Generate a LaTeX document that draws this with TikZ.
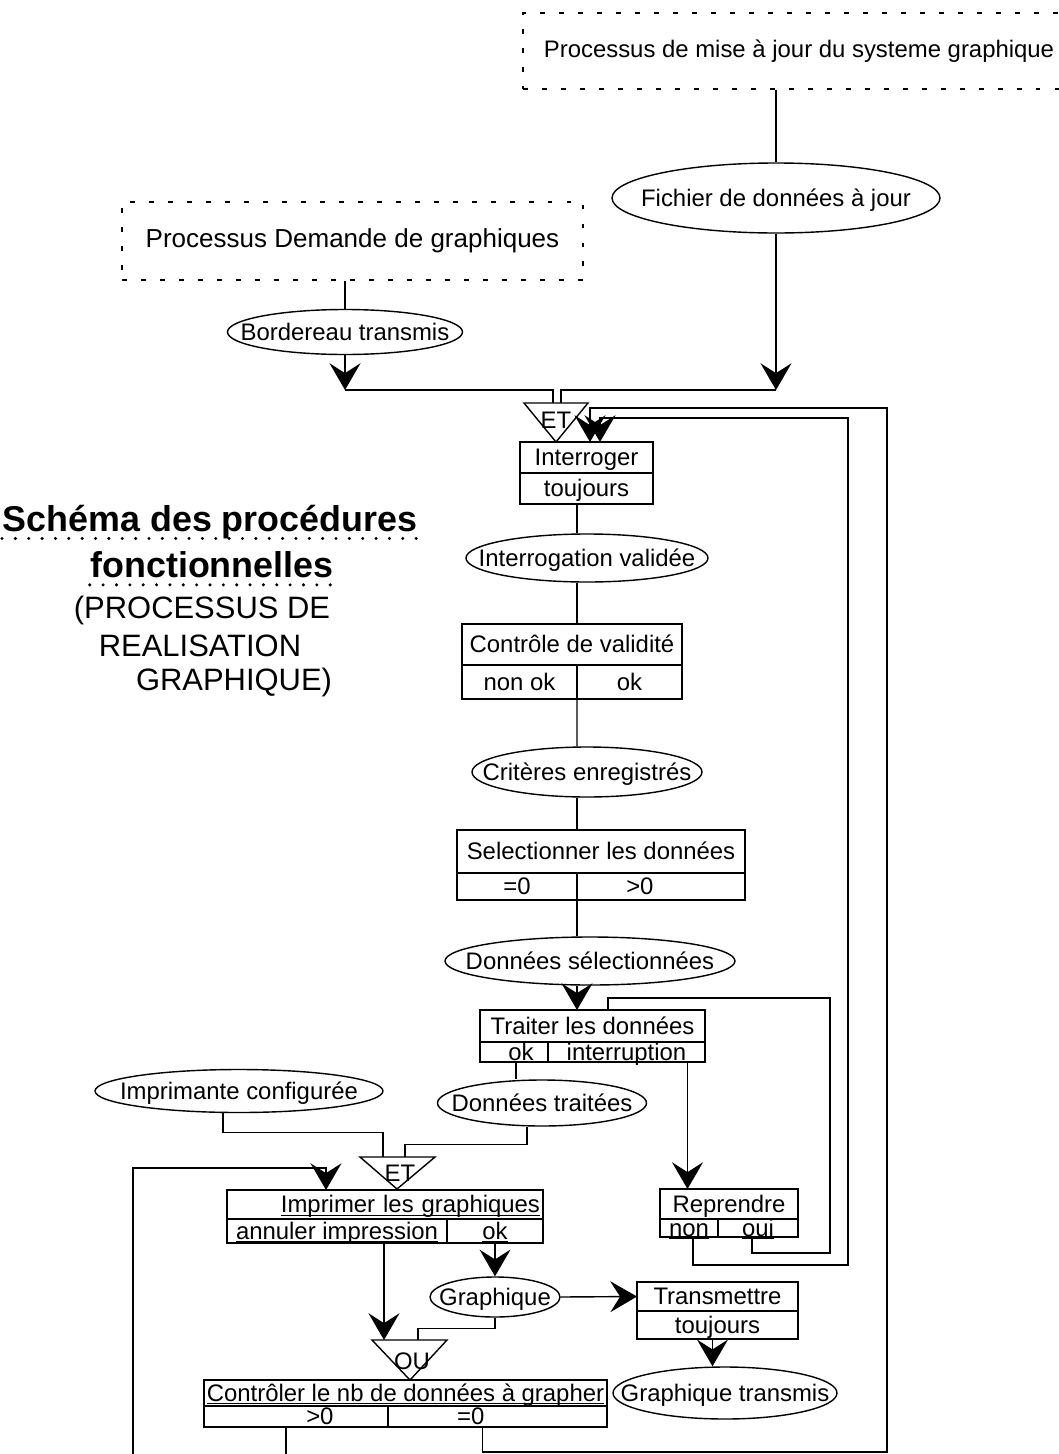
\documentclass[tikz,border=0pt]{standalone}
\usepackage{fontspec}
\setmainfont{Liberation Sans}
\usetikzlibrary{shapes.geometric,arrows.meta,positioning}

\newdimen\pxu
\pxu=0.025cm
\newcommand{\souligne}[1]{\setbox0\hbox{#1}\rlap{\rule[-2pt]{\wd0}{0.7pt}}\box0}
\newcommand{\ev}[1]{\makebox[0pt]{\raisebox{-6pt}[0pt][0pt]{#1}}}

\begin{document}
\begin{tikzpicture}[x=0.025cm, y=-0.025cm, line width=1pt,
    font=\fontsize{17}{20}\selectfont,
    proc/.style={draw, rectangle, line width=0.8pt, dash pattern=on 3.5pt off 10pt, inner sep=0pt},
    flux/.style={draw, ellipse, inner sep=0pt},
    cell/.style={draw, rectangle, inner sep=0pt, outer sep=0pt, text height=12pt, text depth=0pt},
    fl/.style={-{Stealth[length=19pt, width=22pt, inset=7pt]}},
    titre/.style={inner sep=0pt, font=\fontsize{25.5}{30}\selectfont\bfseries},
    soustitre/.style={inner sep=0pt, font=\fontsize{22}{26}\selectfont},
    pointille/.style={line width=2.4pt, line cap=round, dash pattern=on 0pt off 9.5pt}]
  \useasboundingbox (0,0) rectangle (1059,1454);

  % Title
  \node[titre] (titre1) at (210,522) {Schéma des procédures};
  \node[titre] (titre2) at (212,565) {fonctionnelles};
  \node[soustitre] (sous1) at (202,610) {(PROCESSUS DE};
  \node[soustitre] (sous2) at (200,646) {REALISATION};
  \node[soustitre] (sous3) at (234,682) {GRAPHIQUE)};
  \draw[pointille] ([yshift=-5pt]titre1.base west) -- ([yshift=-5pt]titre1.base east);
  \draw[pointille] ([yshift=-5pt]titre2.base west) -- ([yshift=-5pt]titre2.base east);

  % Processes (dashed boxes)
  \node[proc, minimum width=552\pxu, minimum height=76\pxu] (majsys) at (799,51) {Processus de mise à jour du systeme graphique};
  \node[proc, minimum width=461\pxu, minimum height=78\pxu, font=\fontsize{18.5}{22}\selectfont] (demande) at (352.5,241) {Processus Demande de graphiques};

  % Events (ellipses)
  \node[flux, minimum width=328\pxu, minimum height=70\pxu] (fichier) at (776,198) {\ev{Fichier de données à jour}};
  \node[flux, minimum width=235\pxu, minimum height=45\pxu] (bordereau) at (345,332) {\ev{Bordereau transmis}};
  \node[flux, minimum width=242\pxu, minimum height=48\pxu] (valid) at (587,558) {\ev{Interrogation validée}};
  \node[flux, minimum width=230\pxu, minimum height=50\pxu] (criteres) at (587,772) {\ev{Critères enregistrés}};
  \node[flux, minimum width=290\pxu, minimum height=48\pxu] (selec) at (590,961) {\ev{Données sélectionnées}};
  \node[flux, minimum width=209\pxu, minimum height=46\pxu] (traitees) at (542,1103) {\ev{Données traitées}};
  \node[flux, minimum width=288\pxu, minimum height=43\pxu] (imprimante) at (239,1091) {\ev{Imprimante configurée}};
  \node[flux, minimum width=130\pxu, minimum height=40\pxu] (graphique) at (495,1297) {\ev{Graphique}};
  \node[flux, minimum width=224\pxu, minimum height=52\pxu] (transmis) at (725,1393) {\ev{Graphique transmis}};

  % Operations (boxes with result row)
  \node[cell, minimum width=133\pxu, minimum height=31\pxu] (interr) at (586.5,457.5) {Interroger};
  \node[cell, minimum width=133\pxu, minimum height=31\pxu, below=0pt of interr] (interrA) {toujours};

  \node[cell, minimum width=220\pxu, minimum height=41\pxu] (ctl) at (572,644.5) {Contrôle de validité};
  \node[cell, minimum width=115\pxu, minimum height=34\pxu, below right=0pt of ctl.south west] (ctlA) {non ok};
  \node[cell, minimum width=105\pxu, minimum height=34\pxu, right=0pt of ctlA] (ctlB) {ok};

  \node[cell, minimum width=288\pxu, minimum height=43\pxu] (sel) at (601,851.5) {Selectionner les données};
  \node[cell, minimum width=120\pxu, minimum height=27\pxu, below right=0pt of sel.south west] (selA) {=0};
  \node[cell, minimum width=168\pxu, minimum height=27\pxu, right=0pt of selA] (selB) {>0\hspace*{30pt}};

  \node[cell, minimum width=225\pxu, minimum height=32\pxu] (trait) at (592.5,1026) {Traiter les données};
  \node[cell, minimum width=68\pxu, minimum height=20\pxu, below right=0pt of trait.south west] (traitA) {\hspace*{10pt}ok};
  \node[cell, minimum width=157\pxu, minimum height=20\pxu, right=0pt of traitA] (traitB) {interruption};

  \node[cell, minimum width=316\pxu, minimum height=29\pxu, text width=310\pxu, align=right] (impr) at (385,1204.5) {\souligne{Imprimer les graphiques}};
  \node[cell, minimum width=220\pxu, minimum height=24\pxu, below right=0pt of impr.south west] (imprA) {\souligne{annuler impression}};
  \node[cell, minimum width=96\pxu, minimum height=24\pxu, right=0pt of imprA] (imprB) {\souligne{ok}};

  \node[cell, minimum width=138\pxu, minimum height=30\pxu] (repr) at (729,1204) {Reprendre};
  \node[cell, minimum width=58\pxu, minimum height=18\pxu, below right=0pt of repr.south west] (reprA) {\souligne{non}};
  \node[cell, minimum width=80\pxu, minimum height=18\pxu, right=0pt of reprA] (reprB) {\souligne{oui}};

  \node[cell, minimum width=161\pxu, minimum height=29\pxu] (trans) at (717.5,1296.5) {Transmettre};
  \node[cell, minimum width=161\pxu, minimum height=28\pxu, below=0pt of trans] (transA) {toujours};

  \node[cell, minimum width=403\pxu, minimum height=26\pxu] (nbctl) at (405.5,1393) {\souligne{Contrôler le nb de données à grapher}};
  \node[cell, minimum width=184\pxu, minimum height=21\pxu, below right=0pt of nbctl.south west] (nbA) {\hspace*{34pt}>0};
  \node[cell, minimum width=219\pxu, minimum height=21\pxu, right=0pt of nbA] (nbB) {=0\hspace*{38pt}};

  % Synchronisations (triangles)
  \draw (524,403) -- (588,403) -- (556,442) -- cycle;
  \node (et1) at (556,420) {ET};
  \draw (360,1157) -- (435,1157) -- (397,1189) -- cycle;
  \node (et2) at (400,1173) {ET};
  \draw (372,1340) -- (447,1340) -- (410,1380) -- cycle;
  \node (ou) at (412,1361) {OU};

  \coordinate (et1l) at (553,403);
  \coordinate (et1r) at (561,403);
  \coordinate (et2l) at (383,1157);
  \coordinate (et2r) at (405,1157);
  \coordinate (ouL) at (384,1340);
  \coordinate (ouR) at (418,1340);
  \coordinate (mergeL) at (345,390);
  \coordinate (mergeR) at (776,390);
  \coordinate (colonne) at (577,0);

  % Inputs of the first synchronisation
  \draw (bordereau.north |- demande.south) -- (bordereau.north);
  \draw[fl] (bordereau.south) -- (mergeL);
  \draw (mergeL) -| (et1l);
  \draw (fichier.north |- majsys.south) -- (fichier.north);
  \draw[fl] (fichier.south) -- (mergeR);
  \draw (mergeR) -| (et1r);

  % Main column
  \draw (interrA.south -| colonne) -- (valid.north -| colonne);
  \draw (valid.south -| colonne) -- (ctl.north -| colonne);
  \draw (ctlA.south east) -- (criteres.north -| colonne);
  \draw (criteres.south -| colonne) -- (sel.north -| colonne);
  \draw (selA.south east) -- (selec.north -| colonne);
  \draw[fl] (selec.south -| colonne) -- (trait.north -| colonne);
  \draw ([xshift=2\pxu]traitA.south) coordinate (okT) -- (okT |- traitees.north);
  \draw[fl] ([xshift=61\pxu]traitB.south) coordinate (intT) -- (intT |- repr.north);

  % Printing
  \draw ([xshift=-15\pxu]traitees.south) -- ++(0,18) -| (et2r);
  \draw ([xshift=-16\pxu]imprimante.south) -- ++(0,19) -| (et2l);
  \draw[fl] ([xshift=47\pxu]imprA.south) -- (ouL);
  \draw[fl] (imprB.south) -- (graphique.north);
  \draw[fl] (graphique.east) -- (trans.west);
  \draw (graphique.south) -- ++(0,11) -| (ouR);
  \draw[fl] ([xshift=-5\pxu]transA.south) coordinate (trT) -- (trT |- transmis.north);

  % Loops
  \coordinate (boucleA) at (887,1452);
  \coordinate (boucleAh) at (590,408);
  \draw[fl] ([xshift=-15\pxu]nbB.south) |- (boucleA) |- (boucleAh) -- (boucleAh |- interr.north);
  \coordinate (boucleB) at (848,1265);
  \coordinate (boucleBh) at (600,418);
  \draw[fl] ([xshift=4\pxu]reprA.south) |- (boucleB) |- (boucleBh) -- (boucleBh |- interr.north);
  \coordinate (boucleC) at (830,1253);
  \coordinate (boucleCh) at (608,998);
  \draw ([xshift=-6\pxu]reprB.south) |- (boucleC) |- (boucleCh) -- (boucleCh |- trait.north);
  \coordinate (boucleD) at (133,1470);
  \coordinate (boucleDh) at (326,1168);
  \draw[fl] ([xshift=-10\pxu]nbA.south) |- (boucleD) |- (boucleDh) -- (boucleDh |- impr.north);
\end{tikzpicture}
\end{document}
